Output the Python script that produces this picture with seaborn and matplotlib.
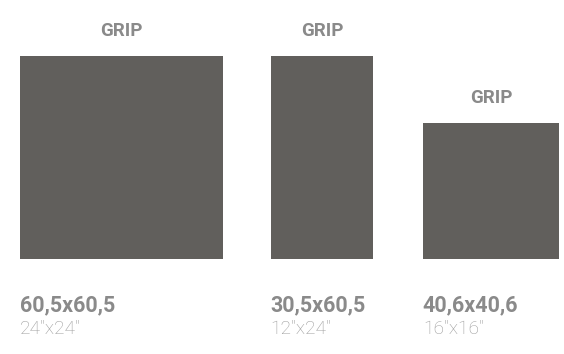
import matplotlib
matplotlib.use('Agg')
import matplotlib.pyplot as plt
import seaborn as sns

# tile sizes (cm) and labels
names = ["GRIP", "GRIP", "GRIP"]
widths_cm = [60.5, 30.5, 40.6]
heights_cm = [60.5, 60.5, 40.6]
size_cm = ["60,5x60,5", "30,5x60,5", "40,6x40,6"]
size_in = ["24\"x24\"", "12\"x24\"", "16\"x16\""]

sns.set_theme(style="white")
plt.rcParams['font.family'] = ['Roboto', 'DejaVu Sans']

# layout: px per cm and gaps between tiles
px_per_cm = 3.36
gaps_cm = [14.1, 14.8]
left_px = 20
bottom_px = 259

lefts = [0.0]
for w, g in zip(widths_cm[:-1], gaps_cm):
    lefts.append(lefts[-1] + w + g)

fig = plt.figure(figsize=(5.64, 3.54), dpi=100)
ax = fig.add_axes([0, 0, 1, 1])
x0 = -left_px / px_per_cm
y0 = -(354 - bottom_px) / px_per_cm
ax.set_xlim(x0, x0 + 564 / px_per_cm)
ax.set_ylim(y0, y0 + 354 / px_per_cm)
ax.axis('off')

ax.bar(lefts, heights_cm, width=widths_cm, align='edge', color='#615f5c', linewidth=0)

for x, w, h, n, c, i in zip(lefts, widths_cm, heights_cm, names, size_cm, size_in):
    ax.annotate(n, (x + w / 2, h), xytext=(0, 14.4), textcoords='offset points',
                ha='center', va='baseline', fontsize=13.5, fontweight='bold', color='#8a8a8a')
    ax.annotate(c, (x, 0), xytext=(0, -37.4), textcoords='offset points',
                ha='left', va='baseline', fontsize=15.5, fontweight='bold', color='#8a8a8a')
    ax.annotate(i, (x, 0), xytext=(0, -54), textcoords='offset points',
                ha='left', va='baseline', fontsize=13.8, fontweight='light', color='#9c9c9c')

fig.savefig('out.png', dpi=100, facecolor='white')
